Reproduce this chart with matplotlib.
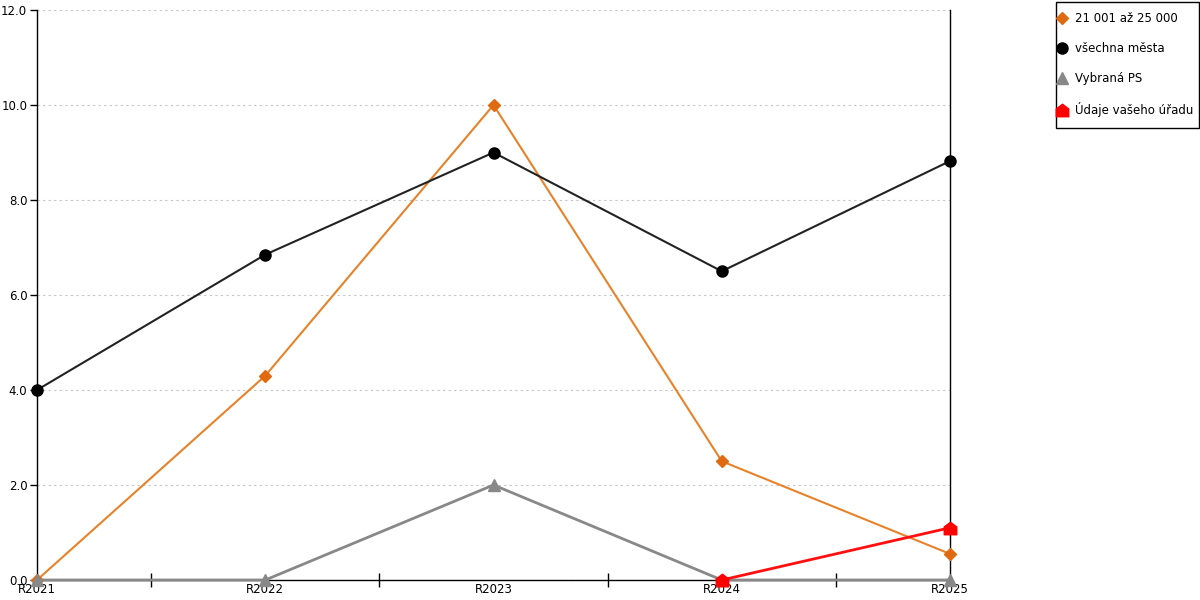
import matplotlib
matplotlib.use("Agg")
import matplotlib.pyplot as plt
from matplotlib.path import Path
from matplotlib.lines import Line2D
from matplotlib.patches import Rectangle

categories = ["R2021", "R2022", "R2023", "R2024", "R2025"]
size_group = [0.0, 4.3, 10.0, 2.5, 0.55]
all_cities = [4.0, 6.85, 9.0, 6.5, 8.82]
selected_ps = [0.0, 0.0, 2.0, 0.0, 0.0]
office_x = ["R2024", "R2025"]
office = [0.0, 1.1]
y_ticks = [0, 2, 4, 6, 8, 10, 12]

labels = ["21 001 až 25 000", "všechna města", "Vybraná PS", "Údaje vašeho úřadu"]

house = Path([(-1, -1), (1, -1), (1, 0.25), (0, 1), (-1, 0.25), (-1, -1)],
             [Path.MOVETO, Path.LINETO, Path.LINETO, Path.LINETO, Path.LINETO, Path.CLOSEPOLY])

W, H = 1200, 600
fig = plt.figure(figsize=(12, 6), dpi=100)
ax = fig.add_axes([37 / W, 20 / H, 913 / W, 570 / H])

xs = list(range(len(categories)))
ox = [categories.index(c) for c in office_x]

ax.plot(xs, size_group, color="#E8822A", lw=1.5, marker="D", ms=6,
        mfc="#E06A10", mec="#E06A10", zorder=3, clip_on=False)
ax.plot(xs, all_cities, color="#222222", lw=1.5, marker="o", ms=8,
        mfc="black", mec="black", zorder=4, clip_on=False)
ax.plot(xs, selected_ps, color="#888888", lw=2, marker="^", ms=8,
        mfc="#888888", mec="#888888", zorder=5, clip_on=False)
ax.plot(ox, office, color="#FF1010", lw=2, marker=house, ms=9,
        mfc="#FF0000", mec="#FF0000", zorder=6, clip_on=False)

ax.set_xlim(0, len(categories) - 1)
ax.set_ylim(0, 12)
ax.set_yticks(y_ticks)
ax.set_yticklabels([f"{v:.1f}" for v in y_ticks], fontsize=8.5)
ax.set_xticks(xs)
ax.set_xticklabels(categories, fontsize=8.5)
ax.set_xticks([x + 0.5 for x in xs[:-1]], minor=True)
ax.tick_params(axis="x", which="major", length=0, pad=2)
ax.tick_params(axis="x", which="minor", length=10, direction="inout", width=1)
ax.tick_params(axis="y", length=5, width=1, pad=2)

ax.yaxis.grid(True, linestyle=(0, (2, 3)), color="#C4C4C4", lw=0.8)
ax.set_axisbelow(True)
ax.spines["top"].set_visible(False)
for side in ["left", "bottom", "right"]:
    ax.spines[side].set_color("black")
    ax.spines[side].set_linewidth(1)

# legend box drawn separately so its padding matches the original
fig.patches.append(Rectangle((1055.5 / W, 1 - 127.5 / H), 143 / W, 125 / H,
                             transform=fig.transFigure, fill=False,
                             edgecolor="black", lw=1))

handles = [
    Line2D([], [], ls="none", marker="D", ms=6, color="#E06A10"),
    Line2D([], [], ls="none", marker="o", ms=8, color="black"),
    Line2D([], [], ls="none", marker="^", ms=8, color="#888888"),
    Line2D([], [], ls="none", marker=house, ms=9, color="#FF0000"),
]
fig.legend(handles, labels, loc="upper left", bbox_to_anchor=(1058 / W, 1 - 12 / H),
           fontsize=8.5, frameon=False, handlelength=0.6, handletextpad=0.8,
           labelspacing=1.43, borderpad=0, borderaxespad=0)

fig.savefig("out.png", dpi=100)
